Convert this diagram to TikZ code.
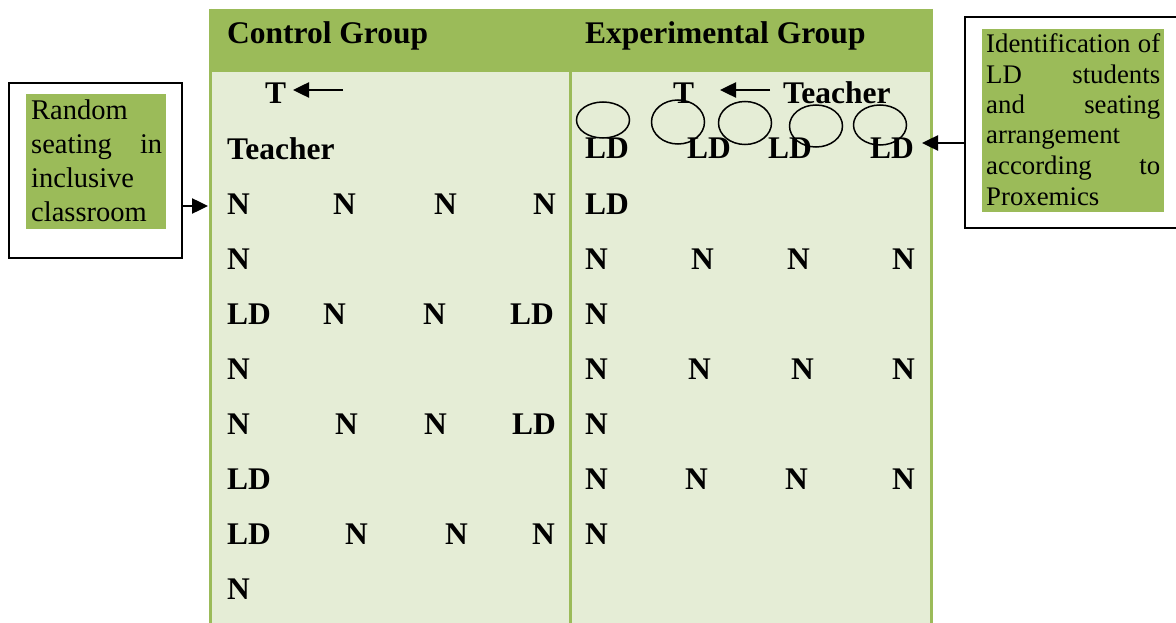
\documentclass[tikz,border=0pt]{standalone}
\usepackage{fontspec}
\setmainfont{Liberation Serif}
\usetikzlibrary{arrows.meta,shapes.geometric}
\definecolor{hdrgreen}{HTML}{9BBB59}
\definecolor{bodygreen}{HTML}{E5EDD6}
\tikzset{
  cell/.style={anchor=base west, inner sep=0pt, yshift=-1.5pt, font=\fontsize{31.5}{36}\selectfont\bfseries},
  boxtxtL/.style={anchor=base west, inner sep=0pt, font=\fontsize{28.5}{34}\selectfont},
  boxtxtR/.style={anchor=base west, inner sep=0pt, font=\fontsize{26.8}{30}\selectfont},
  outerbox/.style={draw=black, line width=1.5pt, fill=white, inner sep=0pt},
  seat/.style={draw=black, line width=1.5pt, ellipse, inner sep=0pt},
  arr/.style={line width=2.5pt, -{Triangle[length=16pt,width=15pt]}},
  grid/.style={draw=hdrgreen, line width=3pt}
}
\begin{document}
\begin{tikzpicture}[x=1pt,y=-1pt]
\useasboundingbox[fill=white] (0,0) rectangle (1176,623);
% table
\fill[hdrgreen] (209,9) rectangle (933,72);
\fill[bodygreen] (209,72) rectangle (933,626);
\draw[grid] (210.5,9) -- (210.5,626);
\draw[grid] (931.5,9) -- (931.5,626);
\draw[grid] (570,72) -- (570,626);
\node[cell] (hc) at (227,42) {Control Group};
\node[cell] (he) at (585,42) {Experimental Group};
% control group
\node[cell] (cT) at (265,102) {T};
\coordinate (cTa) at (343,90);
\coordinate (cTb) at (293,90);
\draw[arr] (cTa) -- (cTb);
\node[cell] (cTeacher) at (227,158) {Teacher};
\node[cell] (c21) at (227,213) {N};
\node[cell] (c22) at (333,213) {N};
\node[cell] (c23) at (434,213) {N};
\node[cell] (c24) at (533,213) {N};
\node[cell] (c31) at (227,268) {N};
\node[cell] (c41) at (227,323) {LD};
\node[cell] (c42) at (323,323) {N};
\node[cell] (c43) at (423,323) {N};
\node[cell] (c44) at (510,323) {LD};
\node[cell] (c51) at (227,378) {N};
\node[cell] (c61) at (227,433) {N};
\node[cell] (c62) at (335,433) {N};
\node[cell] (c63) at (424,433) {N};
\node[cell] (c64) at (512,433) {LD};
\node[cell] (c71) at (227,488) {LD};
\node[cell] (c81) at (227,543) {LD};
\node[cell] (c82) at (345,543) {N};
\node[cell] (c83) at (445,543) {N};
\node[cell] (c84) at (532,543) {N};
\node[cell] (c91) at (227,598) {N};
% experimental group
\node[cell] (eT) at (673,102) {T};
\coordinate (eTa) at (770,90);
\coordinate (eTb) at (720,90);
\draw[arr] (eTa) -- (eTb);
\node[cell] (eTeacher) at (783,102) {Teacher};
\node[cell] (e11) at (585,157) {LD};
\node[cell] (e12) at (687,157) {LD};
\node[cell] (e13) at (768,157) {LD};
\node[cell] (e14) at (870,157) {LD};
\node[seat, minimum width=53pt, minimum height=36pt] (s1) at (603,120) {};
\node[seat, minimum width=53pt, minimum height=44pt] (s2) at (678,122) {};
\node[seat, minimum width=53pt, minimum height=43pt] (s3) at (745,123) {};
\node[seat, minimum width=53pt, minimum height=42pt] (s4) at (816,126) {};
\node[seat, minimum width=53pt, minimum height=40pt] (s5) at (880,125) {};
\node[cell] (e21) at (585,213) {LD};
\node[cell] (e31) at (585,268) {N};
\node[cell] (e32) at (691,268) {N};
\node[cell] (e33) at (787,268) {N};
\node[cell] (e34) at (892,268) {N};
\node[cell] (e41) at (585,323) {N};
\node[cell] (e51) at (585,378) {N};
\node[cell] (e52) at (688,378) {N};
\node[cell] (e53) at (791,378) {N};
\node[cell] (e54) at (892,378) {N};
\node[cell] (e61) at (585,433) {N};
\node[cell] (e71) at (585,488) {N};
\node[cell] (e72) at (685,488) {N};
\node[cell] (e73) at (785,488) {N};
\node[cell] (e74) at (892,488) {N};
\node[cell] (e81) at (585,543) {N};
% left box
\node[outerbox, minimum width=173pt, minimum height=175pt] (lbox) at (95.5,170.5) {};
\fill[hdrgreen] (26,94) rectangle (166,229);
\node[boxtxtL] (l1) at (31,120) {Random};
\node[boxtxtL] (l2) at (31,154) {\makebox[131pt][s]{seating in}};
\node[boxtxtL] (l3) at (31,188) {inclusive};
\node[boxtxtL] (l4) at (31,222) {classroom};
\coordinate (lt) at (208,206);
\draw[arr] (lbox.east |- lt) -- (lt);
% right box
\node[outerbox, minimum width=215pt, minimum height=211pt] (rbox) at (1072.5,122.5) {};
\fill[hdrgreen] (982,29) rectangle (1164,212);
\node[boxtxtR] (r1) at (986,53) {\makebox[174pt][s]{Identification of}};
\node[boxtxtR] (r2) at (986,83.5) {\makebox[174pt][s]{LD students}};
\node[boxtxtR] (r3) at (986,114) {\makebox[174pt][s]{and seating}};
\node[boxtxtR] (r4) at (986,144) {arrangement};
\node[boxtxtR] (r5) at (986,175) {\makebox[174pt][s]{according to}};
\node[boxtxtR] (r6) at (986,205) {Proxemics};
\coordinate (rt) at (922,143);
\draw[arr] (rbox.west |- rt) -- (rt);
\end{tikzpicture}
\end{document}
